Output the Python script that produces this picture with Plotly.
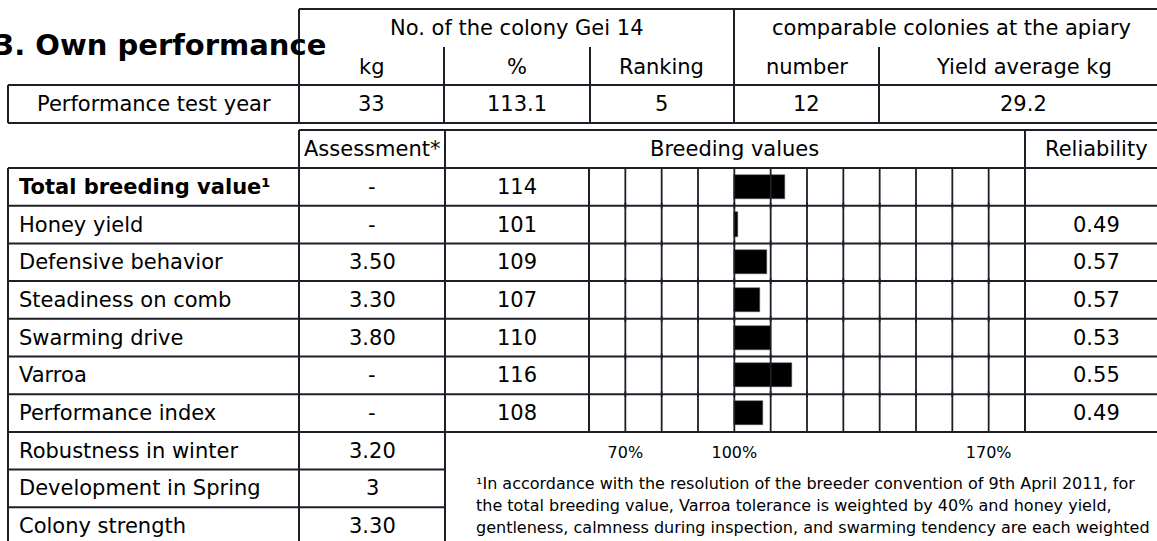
import plotly.graph_objects as go

W, H = 1157, 541

# ---------------- data ----------------
title = "3. Own performance"
top_group_headers = ["No. of the colony Gei 14", "comparable colonies at the apiary"]
top_col_headers = ["kg", "%", "Ranking", "number", "Yield average kg"]
top_row_label = "Performance test year"
top_row_values = ["33", "113.1", "5", "12", "29.2"]

traits = ["Total breeding value¹", "Honey yield", "Defensive behavior",
          "Steadiness on comb", "Swarming drive", "Varroa", "Performance index"]
assessment = ["-", "-", "3.50", "3.30", "3.80", "-", "-"]
breeding_values = [114, 101, 109, 107, 110, 116, 108]
reliability = ["", "0.49", "0.57", "0.57", "0.53", "0.55", "0.49"]

extra_traits = ["Robustness in winter", "Development in Spring", "Colony strength"]
extra_assessment = ["3.20", "3", "3.30"]

lower_headers = ["Assessment*", "Breeding values", "Reliability"]
scale_ticks = [70, 80, 90, 100, 110, 120, 130, 140, 150, 160, 170]
scale_label_vals = [70, 100, 170]
scale_label_text = ["70%", "100%", "170%"]
base_value = 100

footnote_lines = [
    "¹In accordance with the resolution of the breeder convention of 9th April 2011, for",
    "the total breeding value, Varroa tolerance is weighted by 40% and honey yield,",
    "gentleness, calmness during inspection, and swarming tendency are each weighted",
]

# ---------------- layout geometry (pixels) ----------------
FONT = "DejaVu Sans"
LINE_C = "#1e1e28"
LW = 2
TR = 1168  # right edge of tables (beyond the visible canvas)

def X(px):
    return px / W

def Y(py):
    return 1 - py / H

shapes = []

def hline(y, x0, x1):
    shapes.append(dict(type="line", xref="paper", yref="paper",
                       x0=X(x0), x1=X(x1), y0=Y(y), y1=Y(y),
                       line=dict(color=LINE_C, width=LW)))

def vline(x, y0, y1):
    shapes.append(dict(type="line", xref="paper", yref="paper",
                       x0=X(x), x1=X(x), y0=Y(y0), y1=Y(y1),
                       line=dict(color=LINE_C, width=LW)))

annotations = []

def text(s, x, y, size=21, anchor="center", bold=False):
    if bold:
        s = "<b>" + s + "</b>"
    annotations.append(dict(text=s, xref="paper", yref="paper", x=X(x), y=Y(y),
                            xanchor=anchor, yanchor="middle", showarrow=False,
                            font=dict(family=FONT, size=size, color="#000000")))

# top table
top_cols = [299, 444, 590, 734, 879, TR]
hline(9, 299, TR)
vline(299, 9, 123)
vline(734, 9, 123)
for cx in [444, 590, 879]:
    vline(cx, 47, 123)
hline(85, 8, TR)
hline(123, 8, TR)
vline(8, 85, 123)

text(title, -8, 45, size=29, anchor="left", bold=True)
text(top_group_headers[0], (299 + 734) / 2, 28)
text(top_group_headers[1], (734 + TR) / 2, 28)
for i, h in enumerate(top_col_headers):
    text(h, (top_cols[i] + top_cols[i + 1]) / 2, 67)
for i, v in enumerate(top_row_values):
    text(v, (top_cols[i] + top_cols[i + 1]) / 2, 104)
text(top_row_label, (8 + 299) / 2, 104)

# lower table
ROW_TOP = 168
ROW_H = 37.7
n = len(traits)
bar_bottom = ROW_TOP + n * ROW_H
hline(130, 299, TR)
vline(299, 130, H + 5)
vline(445, 130, H + 5)
vline(1025, 130, bar_bottom)
vline(589, ROW_TOP, bar_bottom)
vline(8, ROW_TOP, H + 5)
for k in range(n + 1):
    hline(ROW_TOP + k * ROW_H, 8, TR)
for k in range(1, len(extra_traits)):
    hline(bar_bottom + k * ROW_H, 8, 445)

text(lower_headers[0], 372, 149)
text(lower_headers[1], (445 + 1025) / 2, 149)
text(lower_headers[2], (1025 + TR) / 2, 149)

for i in range(n):
    cy = ROW_TOP + (i + 0.5) * ROW_H
    text(traits[i], 17, cy, anchor="left", bold=(i == 0))
    text(assessment[i], 372, cy)
    text(str(breeding_values[i]), 517, cy)
    if reliability[i]:
        text(reliability[i], (1025 + TR) / 2, cy)

for j in range(len(extra_traits)):
    cy = bar_bottom + (j + 0.5) * ROW_H
    text(extra_traits[j], 17, cy, anchor="left")
    text(extra_assessment[j], 372, cy)

for k, line in enumerate(footnote_lines):
    text(line, 474, 483 + k * 22, size=16, anchor="left")

# ---------------- traces ----------------
fig = go.Figure()

tick_x = []
tick_y = []
for t in traits:
    for v in scale_ticks:
        tick_x.append(v)
        tick_y.append(t)

fig.add_trace(go.Scatter(
    x=tick_x, y=tick_y, mode="markers",
    marker=dict(symbol="line-ns", size=31, line=dict(color=LINE_C, width=1.8)),
    hoverinfo="skip", showlegend=False))

fig.add_trace(go.Bar(
    y=traits, x=[v - base_value for v in breeding_values], base=base_value,
    orientation="h", width=0.64,
    marker=dict(color="#000000", line=dict(color="#555555", width=0.5)),
    showlegend=False))

fig.update_layout(
    width=W, height=H,
    margin=dict(l=0, r=0, t=0, b=0),
    paper_bgcolor="white", plot_bgcolor="rgba(0,0,0,0)",
    shapes=shapes, annotations=annotations,
    xaxis=dict(domain=[X(589), X(1025)], range=[60, 180],
               tickmode="array", tickvals=scale_label_vals, ticktext=scale_label_text,
               ticks="", showgrid=False, zeroline=False, showline=False,
               tickfont=dict(family=FONT, size=16, color="#000000"),
               ticklabelstandoff=9),
    yaxis=dict(domain=[Y(bar_bottom), Y(ROW_TOP)], type="category",
               categoryorder="array", categoryarray=traits,
               range=[n - 0.5, -0.5], showticklabels=False, ticks="",
               showgrid=False, zeroline=False, showline=False),
    bargap=0,
)

fig.write_html("out.html", config={"displayModeBar": False},
               post_script="document.body.style.margin='0';")
